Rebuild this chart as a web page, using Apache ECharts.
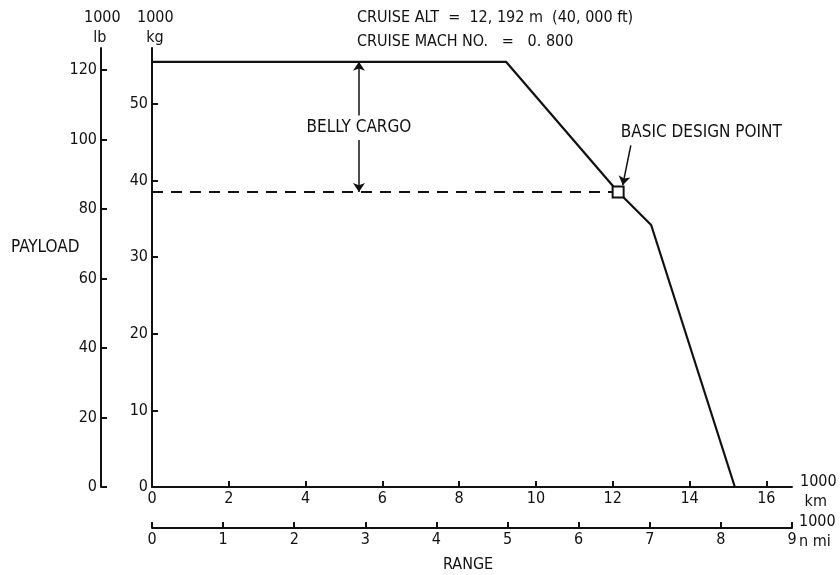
<!DOCTYPE html>
<html>
<head>
<meta charset="utf-8">
<script src="https://cdn.jsdelivr.net/npm/echarts@6/dist/echarts.min.js"></script>
<style>
  html, body { margin: 0; padding: 0; background: #fff; }
  #chart { width: 840px; height: 575px; }
</style>
</head>
<body>
<div id="chart"></div>
<script>
/* global echarts */
// payload-range curve, range in 1000 km, payload in 1000 kg
const range_km = [0, 9.22, 12.14, 13.0, 15.18];
const payload_t = [55.5, 55.5, 38.5, 34.2, 0];

const design_point = [12.14, 38.5];
const belly_range = 5.39;
const belly_label_y = 46.9;

const km_ticks = [0, 2, 4, 6, 8, 10, 12, 14, 16];
const nmi_ticks = [0, 1, 2, 3, 4, 5, 6, 7, 8, 9];
const kg_ticks = [0, 10, 20, 30, 40, 50];
const lb_ticks = [0, 20, 40, 60, 80, 100, 120];

const KG_MAX = 57.3;
const LB_MAX = KG_MAX / 0.45359237;
const NMI_MAX = 9;
const KM_MAX = NMI_MAX * 1.852;

const FONT = '"DejaVu Sans Condensed", "Liberation Sans Narrow", sans-serif';
const INK = '#111';

function axis_style(ticks) {
    return {
        axisLine: { show: true, onZero: false, lineStyle: { color: INK, width: 2 } },
        axisTick: { show: true, inside: true, length: 6, customValues: ticks, lineStyle: { color: INK, width: 2 } },
        axisLabel: { customValues: ticks, color: INK, fontFamily: FONT, fontSize: 16, margin: 4 },
        splitLine: { show: false }
    };
}

const chart = echarts.init(document.getElementById('chart'));

const curve = range_km.map((r, i) => [r, payload_t[i]]);

const option = {
    backgroundColor: '#fff',
    animation: false,
    textStyle: { fontFamily: FONT, color: INK },
    grid: { left: 152, right: 48, top: 48, bottom: 88, containLabel: false },
    xAxis: [
        Object.assign({ type: 'value', min: 0, max: KM_MAX, position: 'bottom' }, axis_style(km_ticks)),
        Object.assign({ type: 'value', min: 0, max: NMI_MAX, position: 'bottom', offset: 41 }, axis_style(nmi_ticks))
    ],
    yAxis: [
        Object.assign({ type: 'value', min: 0, max: KG_MAX, position: 'left' }, axis_style(kg_ticks)),
        Object.assign({ type: 'value', min: 0, max: LB_MAX, position: 'left', offset: 51 }, axis_style(lb_ticks))
    ],
    graphic: [
        { type: 'text', left: 84, top: 8, style: { text: '1000\n  lb', font: '16px ' + FONT, fill: INK, lineHeight: 20 } },
        { type: 'text', left: 137, top: 8, style: { text: '1000\n  kg', font: '16px ' + FONT, fill: INK, lineHeight: 20 } },
        { type: 'text', left: 11, top: 239, style: { text: 'PAYLOAD', font: '17px ' + FONT, fill: INK } },
        { type: 'text', left: 443, top: 557, style: { text: 'RANGE', font: '16px ' + FONT, fill: INK } },
        { type: 'text', left: 800, top: 472, style: { text: '1000\n km', font: '16px ' + FONT, fill: INK, lineHeight: 20 } },
        { type: 'text', left: 799, top: 512, style: { text: '1000\nn mi', font: '16px ' + FONT, fill: INK, lineHeight: 20 } },
        { type: 'text', left: 357, top: 10, style: { text: 'CRUISE ALT  =  12, 192 m  (40, 000 ft)', font: '16px ' + FONT, fill: INK } },
        { type: 'text', left: 357, top: 34, style: { text: 'CRUISE MACH NO.   =   0. 800', font: '16px ' + FONT, fill: INK } }
    ],
    series: [
        {
            name: 'payload',
            type: 'line',
            data: curve,
            showSymbol: false,
            lineStyle: { color: INK, width: 2.2 },
            z: 3
        },
        {
            name: 'belly cargo limit',
            type: 'line',
            data: [[0, design_point[1]], design_point],
            showSymbol: false,
            lineStyle: { color: INK, width: 2, type: [11, 8] },
            z: 2
        },
        {
            name: 'arrows',
            type: 'lines',
            coordinateSystem: 'cartesian2d',
            symbol: ['none', 'arrow'],
            symbolSize: 9,
            lineStyle: { color: INK, width: 1.5, opacity: 1, curveness: 0 },
            data: [
                { coords: [[belly_range, belly_label_y + 1.6], [belly_range, payload_t[0]]] },
                { coords: [[belly_range, belly_label_y - 1.6], [belly_range, design_point[1]]] },
                { coords: [[12.47, 44.6], [12.26, 39.4]] }
            ],
            z: 4
        },
        {
            name: 'design point',
            type: 'scatter',
            data: [design_point],
            symbol: 'rect',
            symbolSize: 11,
            itemStyle: { color: '#fff', borderColor: INK, borderWidth: 2, opacity: 1 },
            z: 5
        },
        {
            name: 'notes',
            type: 'scatter',
            symbolSize: 0,
            silent: true,
            itemStyle: { opacity: 1 },
            label: { show: true, position: 'inside', color: INK, fontFamily: FONT, fontSize: 17, formatter: p => p.data.text },
            data: [
                { value: [belly_range, belly_label_y], text: 'BELLY CARGO', label: { align: 'center' } },
                { value: [12.21, 46.2], text: 'BASIC DESIGN POINT', label: { align: 'left' } }
            ],
            z: 6
        }
    ]
};

chart.setOption(option);
</script>
</body>
</html>
